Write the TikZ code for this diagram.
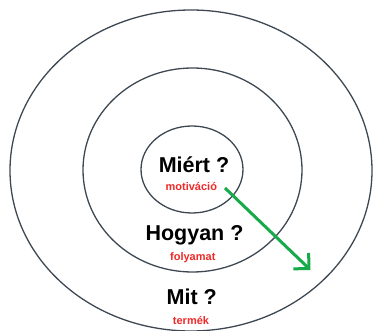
\documentclass[tikz,border=0pt]{standalone}
\usepackage{fontspec}
\setmainfont{Liberation Sans}
\usetikzlibrary{arrows.meta}

\definecolor{ringgray}{HTML}{3E4852}
\definecolor{labred}{HTML}{F02828}
\definecolor{arrgreen}{HTML}{16AA4A}

\tikzset{
  ring/.style={draw=ringgray,line width=1.3pt},
  big/.style={anchor=base,inner sep=0pt,font=\fontsize{21.5}{24}\selectfont\bfseries},
  small/.style={anchor=base,inner sep=0pt,text=labred,font=\fontsize{11}{13}\selectfont\bfseries}
}

\begin{document}
\begin{tikzpicture}[x=1pt,y=-1pt]
  \useasboundingbox (0,0) rectangle (373,331);
  \draw[ring] (191,170.5) ellipse (181 and 160.5);
  \draw[ring] (192.5,170) ellipse (109.5 and 102);
  \draw[ring] (192,169.5) ellipse (51 and 43.5);
  \node[big] (miert) at (194,173) {Miért ?};
  \node[small] (motivacio) at (191.3,190.5) {motiváció};
  \node[big] (hogyan) at (194.5,241) {Hogyan ?};
  \node[small] (folyamat) at (192.8,260.5) {folyamat};
  \node[big] (mit) at (191.8,305) {Mit ?};
  \node[small] (termek) at (191,325) {termék};
  \coordinate (from) at (225,188);
  \coordinate (to) at (310.5,270);
  \draw[arrgreen,line width=3pt,-{Straight Barb[length=11pt,width=22pt]}] (from) -- (to);
\end{tikzpicture}
\end{document}
